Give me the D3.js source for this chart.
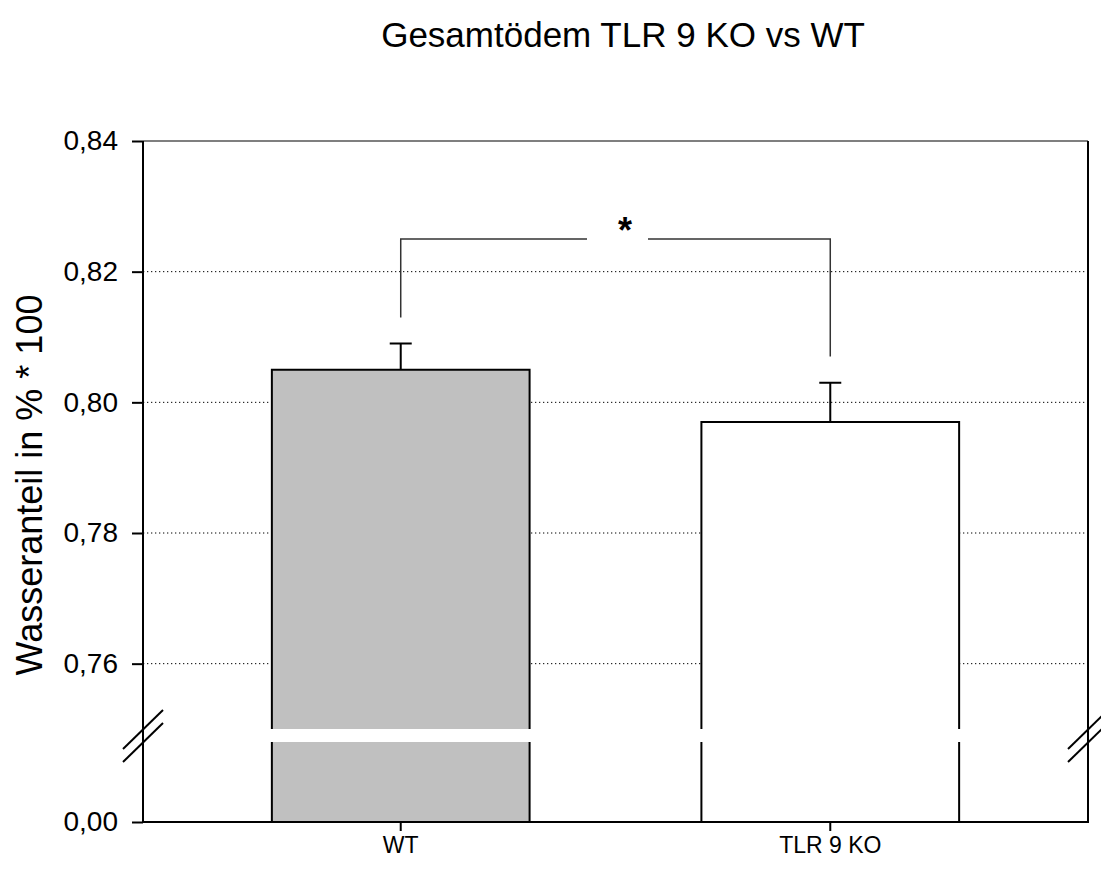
<!DOCTYPE html>
<html>
<head>
<meta charset="utf-8">
<script src="https://cdn.jsdelivr.net/npm/d3@7"></script>
<style>
  html, body { margin: 0; padding: 0; background: #fff; }
  svg { display: block; font-family: "Liberation Sans", Arial, sans-serif; }
</style>
</head>
<body>
<svg id="chart" width="1101" height="875"></svg>
<script>
// Group names and measured water fraction (mean and standard error)
const groups = ["WT", "TLR 9 KO"];
const means = [0.805, 0.797];
const errors = [0.004, 0.006];

// Axis ticks: upper (zoomed) segment and lower segment below the break
const upperTicks = [0.76, 0.78, 0.80, 0.82, 0.84];
const lowerTicks = [0.00];
const upperDomain = [0.75, 0.84];
const lowerDomain = [0.00, 0.05];

// Significance bracket: top level and where each leg ends
const bracketTop = 0.825;
const bracketEnds = [0.813, 0.807];
const bracketMark = "*";

const titleText = "Gesamtödem TLR 9 KO vs WT";
const yTitle = "Wasseranteil in % * 100";

const barFills = ["#c0c0c0", "#ffffff"];

const svg = d3.select("#chart");
const plot = { left: 143, right: 1088, top: 141, bottom: 822 };
const breakTop = 729, breakBottom = 742;

const x = d3.scaleBand().domain(groups).range([plot.left, plot.right])
  .paddingInner(0.4).paddingOuter(0.3);
const yU = d3.scaleLinear().domain(upperDomain).range([breakTop, plot.top]);
const yL = d3.scaleLinear().domain(lowerDomain).range([plot.bottom, breakBottom]);

const locale = d3.formatLocale({ decimal: ",", thousands: ".", grouping: [3], currency: ["", " €"] });
const fmt = locale.format(".2f");

// Dotted grid lines across the upper segment
svg.append("g").selectAll("line").data(upperTicks.filter(t => t < upperDomain[1]))
  .join("line")
  .attr("x1", plot.left).attr("x2", plot.right)
  .attr("y1", d => yU(d)).attr("y2", d => yU(d))
  .attr("stroke", "#000").attr("stroke-width", 1)
  .attr("stroke-dasharray", "1.3,2.7");

// Bars, split at the axis break
const bars = svg.append("g");
groups.forEach((g, i) => {
  const x0 = x(g), bw = x.bandwidth();
  const yTop = yU(means[i]);
  bars.append("rect").attr("x", x0).attr("y", yTop)
    .attr("width", bw).attr("height", yU(upperDomain[0]) - yTop)
    .attr("fill", barFills[i]);
  bars.append("rect").attr("x", x0).attr("y", yL(lowerDomain[1]))
    .attr("width", bw).attr("height", yL(0) - yL(lowerDomain[1]))
    .attr("fill", barFills[i]);
  // outline: upper part (sides + top) and lower part (sides)
  bars.append("path")
    .attr("d", `M${x0},${yU(upperDomain[0])}V${yTop}H${x0 + bw}V${yU(upperDomain[0])}`)
    .attr("fill", "none").attr("stroke", "#000").attr("stroke-width", 2);
  bars.append("path")
    .attr("d", `M${x0},${yL(lowerDomain[1])}V${yL(0)}M${x0 + bw},${yL(lowerDomain[1])}V${yL(0)}`)
    .attr("fill", "none").attr("stroke", "#000").attr("stroke-width", 2);

  // error bar (upper whisker only)
  const cx = x0 + bw / 2;
  const yErr = yU(means[i] + errors[i]);
  bars.append("path")
    .attr("d", `M${cx},${yTop}V${yErr}M${cx - 11},${yErr}H${cx + 11}`)
    .attr("fill", "none").attr("stroke", "#000").attr("stroke-width", 2);
});

// Frame: left/right axes, top and bottom
svg.append("line").attr("x1", plot.left).attr("x2", plot.right)
  .attr("y1", plot.top).attr("y2", plot.top).attr("stroke", "#000").attr("stroke-width", 1.2);
svg.append("line").attr("x1", plot.left - 1).attr("x2", plot.right + 1)
  .attr("y1", plot.bottom).attr("y2", plot.bottom).attr("stroke", "#000").attr("stroke-width", 2);
[plot.left, plot.right].forEach(px => {
  svg.append("line").attr("x1", px).attr("x2", px)
    .attr("y1", plot.top).attr("y2", plot.bottom).attr("stroke", "#000").attr("stroke-width", 2);
  // break marks
  [breakTop + 0.5, breakBottom + 0.5].forEach(by => {
    svg.append("line").attr("x1", px - 20).attr("y1", by + 19.5)
      .attr("x2", px + 20).attr("y2", by - 19.5)
      .attr("stroke", "#000").attr("stroke-width", 2);
  });
});

// Left axis ticks and labels
const styleAxis = g => {
  g.select(".domain").remove();
  g.selectAll(".tick line").attr("stroke", "#000").attr("stroke-width", 2);
  g.selectAll(".tick text").attr("fill", "#000").attr("font-size", 28)
    .attr("font-family", "Liberation Sans, Arial, sans-serif");
};
svg.append("g").attr("transform", `translate(${plot.left},0)`)
  .call(d3.axisLeft(yU).tickValues(upperTicks).tickFormat(fmt).tickSize(11).tickPadding(14))
  .call(styleAxis);
svg.append("g").attr("transform", `translate(${plot.left},0)`)
  .call(d3.axisLeft(yL).tickValues(lowerTicks).tickFormat(fmt).tickSize(11).tickPadding(14))
  .call(styleAxis);

// Bottom category axis
svg.append("g").attr("transform", `translate(0,${plot.bottom})`)
  .call(d3.axisBottom(x).tickSize(9).tickPadding(6))
  .call(styleAxis)
  .call(g => g.selectAll(".tick text").attr("font-size", 23));

// Significance bracket
const cxs = groups.map(g => x(g) + x.bandwidth() / 2);
const yb = yU(bracketTop);
const starX = 625;
svg.append("path")
  .attr("d", `M${cxs[0]},${yU(bracketEnds[0])}V${yb}H${starX - 38}M${starX + 23},${yb}H${cxs[1]}V${yU(bracketEnds[1])}`)
  .attr("fill", "none").attr("stroke", "#333").attr("stroke-width", 1.5);
svg.append("text").attr("x", starX).attr("y", yb + 4)
  .attr("text-anchor", "middle").attr("font-size", 36).attr("font-weight", "bold")
  .text(bracketMark);

// Titles
svg.append("text").attr("x", 623).attr("y", 47).attr("text-anchor", "middle")
  .attr("font-size", 35).text(titleText);
svg.append("text").attr("transform", `translate(42,485) rotate(-90)`)
  .attr("text-anchor", "middle").attr("font-size", 36).text(yTitle);
</script>
</body>
</html>
